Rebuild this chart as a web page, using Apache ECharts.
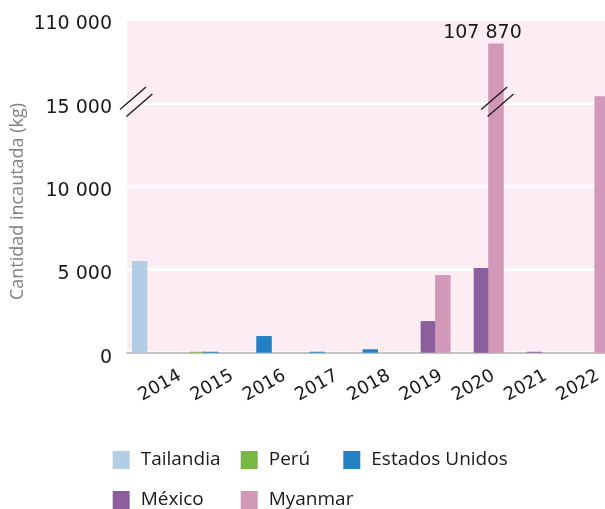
<!DOCTYPE html>
<html>
<head>
<meta charset="utf-8">
<script src="https://cdn.jsdelivr.net/npm/echarts@6/dist/echarts.min.js"></script>
<style>
html,body{margin:0;padding:0;background:#ffffff;}
#c{width:605px;height:509px;}
</style>
</head>
<body>
<div id="c"></div>
<script>
// ---------- data ----------
const categories = ['2014', '2015', '2016', '2017', '2018', '2019', '2020', '2021', '2022'];
const seriesNames = ['Tailandia', 'Perú', 'Estados Unidos', 'México', 'Myanmar'];
const tailandia     = [5500, null, null, null, null, null, null, null, null];
const peru          = [null, 60, null, null, null, null, null, null, null];
const estadosUnidos = [null, 60, 1000, 60, 205, null, null, null, null];
const mexico        = [null, null, null, null, null, 1900, 5080, 60, null];
const myanmar       = [null, null, null, null, null, 4660, 107870, null, 15400];
const yTickValues = [0, 5000, 10000, 15000, 20000];
const yTickLabels = ['0', '5 000', '10 000', '15 000', '110 000'];

// ---------- broken axis ----------
const LIN_MAX = 16000;      // values shown linearly up to here
const COMPRESS = 0.0279;    // compression above the break
const BREAK_AT = 15000;
function disp(v) { return v <= LIN_MAX ? v : LIN_MAX + (v - LIN_MAX) * COMPRESS; }
function fmt(v) { return String(v).replace(/\B(?=(\d{3})+(?!\d))/g, ' '); }

const colors = ['#b3cde4', '#77b843', '#2381c3', '#8b5f9c', '#d198b8'];
const offsets = [-21.6, -17, -3.5, 1.5, 16];
const BW = 15.5;
const valueSets = [tailandia, peru, estadosUnidos, mexico, myanmar];

const NUM_FONT = '"DejaVu Sans"';
const TXT_FONT = '"Open Sans"';

function breakLines(cx, cy) {
  const hx = 13, hy = 11.3;
  const c1 = [cx - 3.2, cy - 3.7], c2 = [cx + 3.2, cy + 3.3];
  return [c1, c2].map(c => ({
    type: 'line',
    shape: { x1: c[0] - hx, y1: c[1] + hy, x2: c[0] + hx, y2: c[1] - hy },
    style: { stroke: '#1a1a1a', lineWidth: 1.3 },
    z2: 10
  }));
}

function makeSeries(i) {
  const data = [];
  valueSets[i].forEach((v, k) => { if (v != null) data.push([k, disp(v), v]); });
  const off = offsets[i];
  return {
    name: seriesNames[i],
    type: 'custom',
    xAxisIndex: 0, yAxisIndex: 0,
    itemStyle: { color: colors[i] },
    encode: { x: 0, y: 1 },
    clip: false,
    data: data,
    renderItem: function (params, api) {
      const k = api.value(0), dv = api.value(1), raw = api.value(2);
      const top = api.coord([k, dv]);
      const base = api.coord([k, 0]);
      const x = base[0] + off;
      const children = [{
        type: 'rect',
        shape: { x: x, y: top[1], width: BW, height: base[1] - top[1] },
        style: { fill: api.visual('color') }
      }];
      if (raw > LIN_MAX) {
        const yb = api.coord([k, BREAK_AT])[1];
        const cx = x + BW / 2;
        breakLines(cx + 1.4, yb - 0.8).forEach(l => children.push(l));
        children.push({
          type: 'text',
          style: {
            text: fmt(raw), x: cx - 13.5, y: top[1] - 1,
            align: 'center', verticalAlign: 'bottom',
            textAlign: 'center', textVerticalAlign: 'bottom',
            fontSize: 19, fontFamily: NUM_FONT, fill: '#1a1a1a'
          },
          z2: 10
        });
      }
      return { type: 'group', children: children };
    }
  };
}

const legendPos = [[112.7, 450.5], [240.7, 450.5], [343.3, 450.5], [112.7, 490.5], [240.7, 490.5]];

const chart = echarts.init(document.getElementById('c'), null, { renderer: 'canvas', width: 605, height: 509 });

const option = {
  animation: false,
  backgroundColor: '#ffffff',
  grid: [
    { left: 127, right: 0, top: 19.5, bottom: 156.3, show: true, backgroundColor: '#fcedf5', borderWidth: 0 },
    { left: 180, right: 6.5, top: 19.5, bottom: 156.3, show: false }
  ],
  xAxis: [
    {
      gridIndex: 0, type: 'category', data: categories, boundaryGap: true,
      axisLine: { show: true, lineStyle: { color: '#b0b0b0', width: 1.5 } },
      axisTick: { show: false }, axisLabel: { show: false }, splitLine: { show: false }
    },
    {
      gridIndex: 1, type: 'category', data: categories, boundaryGap: false,
      axisLine: { show: false }, axisTick: { show: false }, splitLine: { show: false },
      axisLabel: { show: true, rotate: 29, margin: 22, interval: 0, color: '#1a1a1a',
                   fontSize: 18, fontFamily: NUM_FONT }
    }
  ],
  yAxis: [
    {
      gridIndex: 0, type: 'value', min: 0, max: 20000, interval: 5000,
      axisLine: { show: false }, axisTick: { show: false },
      splitLine: { show: true, lineStyle: { color: '#ffffff', width: 3 } },
      axisLabel: {
        margin: 15,
        formatter: function (v) { const i = yTickValues.indexOf(v); return i >= 0 ? '{t|' + yTickLabels[i] + '}' : ''; },
        rich: {
          t: { color: '#1a1a1a', fontSize: 19, fontFamily: NUM_FONT, padding: [10, 0, 0, 0] }
        }
      }
    },
    { gridIndex: 1, type: 'value', min: 0, max: 20000, show: false }
  ],
  legend: legendPos.map((p, i) => ({
    data: [seriesNames[i]], left: p[0], top: p[1], padding: 0,
    icon: 'rect', itemWidth: 17, itemHeight: 18, selectedMode: false,
    textStyle: { fontSize: 19, fontFamily: TXT_FONT, color: '#1a1a1a', padding: [0, 0, 0, 6] }
  })),
  series: [0, 1, 2, 3, 4].map(makeSeries)
};
chart.setOption(option);

const yBreak = chart.convertToPixel({ yAxisIndex: 0 }, BREAK_AT);
chart.setOption({
  graphic: [
    { type: 'group', children: breakLines(136.2, yBreak - 0.8) },
    {
      type: 'text', x: 18, y: 201.5, rotation: Math.PI / 2,
      style: { text: 'Cantidad incautada (kg)', fontSize: 18, fontFamily: TXT_FONT, fill: '#808080',
               align: 'center', verticalAlign: 'middle', textAlign: 'center', textVerticalAlign: 'middle' }
    }
  ]
});
</script>
</body>
</html>
